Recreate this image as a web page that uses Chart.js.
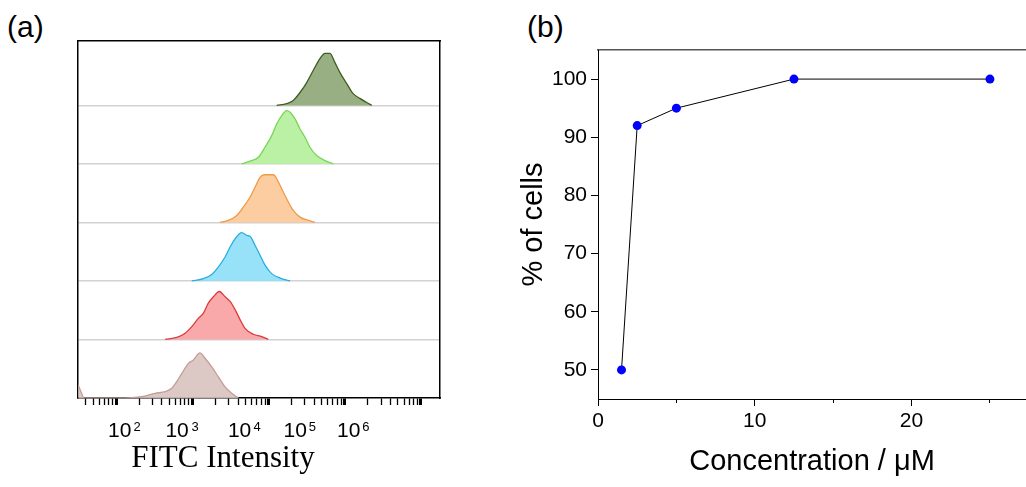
<!DOCTYPE html>
<html>
<head>
<meta charset="utf-8">
<script src="https://cdn.jsdelivr.net/npm/chart.js@4.4.0/dist/chart.umd.min.js"></script>
<style>
  html, body { margin: 0; padding: 0; background: #fff; overflow: hidden; }
  body { width: 1026px; height: 487px; position: relative; font-family: 'Liberation Sans', Arial, sans-serif; }
  .panel { position: absolute; top: 0; height: 487px; }
  #wrap-a { left: 0; width: 446px; }
  #wrap-b { left: 500px; width: 526px; }
  .tag { position: absolute; top: 12px; font-size: 30px; line-height: 1; color: #000; }
</style>
</head>
<body>
<div class="tag" style="left:7px">(a)</div>
<div class="tag" style="left:527px">(b)</div>
<div class="panel" id="wrap-a"><canvas id="chartHisto"></canvas></div>
<div class="panel" id="wrap-b"><canvas id="chartConc"></canvas></div>
<script>
// FITC histograms, bottom row first: [intensity, relative count]
const histBrown = [[31.8, 0.22], [34.8, 0.10], [38, 0], [106, 0], [217, 0.022], [325, 0.08], [440, 0.108], [538, 0.165], [625, 0.28], [728, 0.42], [889, 0.59], [1030, 0.65], [1260, 0.77], [1470, 0.68], [1800, 0.53], [2200, 0.36], [2690, 0.19], [3290, 0.08], [4020, 0]];
const histRed = [[440, 0], [625, 0.034], [804, 0.108], [984, 0.22], [1200, 0.36], [1400, 0.45], [1620, 0.62], [1890, 0.73], [2260, 0.82], [2690, 0.73], [3130, 0.65], [3640, 0.51], [4230, 0.34], [4920, 0.19], [6320, 0.09], [8150, 0.05], [9930, 0]];
const histBlue = [[984, 0], [1400, 0.04], [1800, 0.11], [2200, 0.24], [2690, 0.41], [3130, 0.58], [3640, 0.72], [4450, 0.825], [5180, 0.78], [5850, 0.75], [6650, 0.61], [7740, 0.44], [9000, 0.27], [11000, 0.125], [14200, 0.05], [19200, 0]];
const histOrange = [[2310, 0], [2970, 0.034], [3830, 0.12], [4670, 0.26], [5710, 0.43], [6650, 0.6], [7740, 0.77], [8810, 0.815], [11600, 0.815], [13500, 0.69], [15600, 0.52], [18200, 0.35], [21100, 0.205], [25900, 0.09], [33300, 0.034], [40700, 0]];
const histLightGreen = [[4450, 0], [5710, 0.046], [7350, 0.114], [8990, 0.285], [11000, 0.483], [12800, 0.683], [14900, 0.824], [17300, 0.91], [19200, 0.882], [22300, 0.768], [25900, 0.597], [30100, 0.456], [35000, 0.285], [42900, 0.142], [55100, 0.056], [70800, 0]];
const histDarkGreen = [[12800, 0], [17300, 0.03], [21100, 0.085], [25900, 0.22], [31700, 0.39], [38700, 0.6], [47300, 0.8], [55100, 0.89], [64100, 0.89], [74500, 0.73], [86700, 0.56], [106000, 0.375], [129000, 0.2], [158000, 0.12], [194000, 0.05], [226000, 0]];

// FITC axis: range, log tick grid, hand-placed decade labels (positions in log10 units)
const fitcRange = [31.6, 1.78e6];
const fitcDecades = [10, 100, 1e3, 1e4, 1e5, 1e6];
const fitcMantissas = [1, 2, 3, 4, 5, 6, 7, 8, 9];
const fitcBaseLabels = ['10', '10', '10', '10', '10'];
const fitcBasePos = [2.046, 2.800, 3.620, 4.351, 5.052];
const fitcExpLabels = ['2', '3', '4', '5', '6'];
const fitcExpPos = [2.275, 3.036, 3.849, 4.577, 5.279];
const rowSeparators = [1, 2, 3, 4, 5];

// % of stained cells vs concentration
const concUM = [1.5, 2.5, 5, 12.5, 25];
const pctCells = [50, 92, 95, 100, 100];
const pctTicks = [50, 60, 70, 80, 90, 100];
const concMajorTicks = [0, 10, 20];
const concMinorTicks = [5, 15, 25];

(() => {
  const SANS = "'Liberation Sans', Arial, sans-serif";
  const SERIF = "'Liberation Serif', 'Times New Roman', serif";
  Chart.defaults.font.family = SANS;
  Chart.defaults.color = '#000';

  const rows = [histBrown, histRed, histBlue, histOrange, histLightGreen, histDarkGreen];
  const rowStyles = [
    { fill: 'rgba(216,194,190,0.9)', line: '#c39d97' },
    { fill: 'rgba(248,160,160,0.9)', line: '#dd3b3b' },
    { fill: 'rgba(140,222,248,0.9)', line: '#2aaee0' },
    { fill: 'rgba(252,200,150,0.9)', line: '#ee9a48' },
    { fill: 'rgba(178,240,155,0.9)', line: '#78d655' },
    { fill: 'rgba(146,170,124,0.95)', line: '#3f5e22' },
  ];

  const rangeLog = [Math.log10(fitcRange[0]), Math.log10(fitcRange[1])];
  const hidden = { display: false, drawTicks: false };

  // (a) stacked histograms, each row sits on its own baseline
  new Chart(document.getElementById('chartHisto'), {
    type: 'line',
    data: {
      datasets: rows.map((pts, i) => ({
        data: pts.map(([x, h]) => ({ x, y: i + h })),
        fill: { value: i },
        backgroundColor: rowStyles[i].fill,
        borderColor: rowStyles[i].line,
        borderWidth: 1.3,
        pointRadius: 0,
        cubicInterpolationMode: 'monotone',
      })),
    },
    options: {
      animation: false,
      responsive: true,
      maintainAspectRatio: false,
      layout: { autoPadding: false, padding: { top: 41, left: 0, right: 0, bottom: 0 } },
      plugins: {
        legend: { display: false },
        tooltip: { enabled: false },
        title: {
          display: true,
          position: 'bottom',
          text: 'FITC Intensity',
          color: '#000',
          font: { family: SERIF, size: 31, weight: 'normal' },
          padding: { top: 0, bottom: 10 },
        },
      },
      scales: {
        x: {
          type: 'logarithmic',
          position: 'bottom',
          weight: 0,
          min: fitcRange[0],
          max: fitcRange[1],
          afterBuildTicks: (ax) => {
            ax.ticks = fitcDecades
              .flatMap((d) => fitcMantissas.map((m) => ({ value: d * m })))
              .filter((t) => t.value >= ax.min && t.value <= ax.max);
          },
          afterFit: (ax) => { ax.height = 8; },
          ticks: { display: false },
          grid: {
            drawOnChartArea: false,
            tickLength: 7,
            tickColor: '#000',
            tickWidth: (ctx) => (ctx.tick && fitcDecades.includes(ctx.tick.value) ? 3 : 1.3),
          },
          border: { display: true, color: '#000', width: 1.5 },
        },
        // exponents: mirrored so the labels are not clipped to this zero-height box
        xExp: {
          type: 'linear',
          position: 'bottom',
          weight: 1,
          min: rangeLog[0],
          max: rangeLog[1],
          afterBuildTicks: (ax) => { ax.ticks = fitcExpPos.map((v) => ({ value: v })); },
          afterFit: (ax) => { ax.height = 0; },
          ticks: {
            autoSkip: false, maxRotation: 0, mirror: true, padding: -29.3, color: '#000',
            font: { size: 13 },
            callback: (v, i) => fitcExpLabels[i],
          },
          grid: hidden,
          border: { display: false },
        },
        xLab: {
          type: 'linear',
          position: 'bottom',
          weight: 2,
          min: rangeLog[0],
          max: rangeLog[1],
          afterBuildTicks: (ax) => { ax.ticks = fitcBasePos.map((v) => ({ value: v })); },
          afterFit: (ax) => { ax.height = 33.8; },
          ticks: {
            autoSkip: false, maxRotation: 0, padding: 12.4, color: '#000',
            font: { size: 21 },
            callback: (v, i) => fitcBaseLabels[i],
          },
          grid: hidden,
          border: { display: false },
        },
        xTop: {
          type: 'linear',
          position: 'top',
          min: 0, max: 1,
          afterFit: (ax) => { ax.height = 0; },
          ticks: { display: false },
          grid: hidden,
          border: { display: true, color: '#000', width: 1.5 },
        },
        y: {
          position: 'left',
          min: 0,
          max: 6.1,
          afterBuildTicks: (ax) => { ax.ticks = rowSeparators.map((v) => ({ value: v })); },
          afterFit: (ax) => { ax.width = 78; },
          ticks: { display: false },
          grid: { color: '#d2d2d2', lineWidth: 1.5, drawTicks: false },
          border: { display: true, color: '#000', width: 1.5 },
        },
        yRight: {
          position: 'right',
          min: 0,
          max: 6.1,
          afterFit: (ax) => { ax.width = 6; },
          ticks: { display: false },
          grid: hidden,
          border: { display: true, color: '#000', width: 1.5 },
        },
      },
    },
  });

  // (b) % of cells vs concentration
  new Chart(document.getElementById('chartConc'), {
    type: 'line',
    data: {
      datasets: [{
        data: concUM.map((x, i) => ({ x, y: pctCells[i] })),
        borderColor: '#000',
        borderWidth: 1,
        pointRadius: 4.5,
        pointBackgroundColor: '#0000ff',
        pointBorderWidth: 0,
        tension: 0,
        clip: false,
      }],
    },
    options: {
      animation: false,
      responsive: true,
      maintainAspectRatio: false,
      layout: { autoPadding: false, padding: { top: 50, left: 0, right: 0, bottom: 0 } },
      plugins: { legend: { display: false }, tooltip: { enabled: false } },
      scales: {
        xMinor: {
          type: 'linear',
          position: 'bottom',
          weight: -1,
          min: 0,
          max: 27.3,
          afterBuildTicks: (ax) => { ax.ticks = concMinorTicks.map((v) => ({ value: v })); },
          afterFit: (ax) => { ax.height = 0; },
          ticks: { display: false },
          grid: { drawOnChartArea: false, tickLength: 4, tickColor: '#000', tickWidth: 1 },
          border: { display: false },
        },
        x: {
          type: 'linear',
          position: 'bottom',
          weight: 0,
          min: 0,
          max: 27.3,
          afterBuildTicks: (ax) => { ax.ticks = concMajorTicks.map((v) => ({ value: v })); },
          afterFit: (ax) => { ax.height = 88; },
          ticks: { padding: 2.4, color: '#000', font: { size: 21 }, maxRotation: 0, autoSkip: false },
          grid: { drawOnChartArea: false, tickLength: 7, tickColor: '#000', tickWidth: 1 },
          border: { color: '#000', width: 1 },
          title: {
            display: true,
            text: 'Concentration / μM',
            color: '#000',
            font: { size: 29 },
            padding: { top: 0, bottom: 7.6 },
          },
        },
        xTop: {
          type: 'linear',
          position: 'top',
          min: 0, max: 1,
          afterFit: (ax) => { ax.height = 0; },
          ticks: { display: false },
          grid: hidden,
          border: { display: true, color: '#555', width: 1.5 },
        },
        y: {
          position: 'left',
          min: 45,
          max: 105,
          afterBuildTicks: (ax) => { ax.ticks = pctTicks.map((v) => ({ value: v })); },
          afterFit: (ax) => { ax.width = 98; },
          ticks: { padding: 4, color: '#000', font: { size: 21 } },
          grid: { drawOnChartArea: false, tickLength: 7, tickColor: '#000', tickWidth: 1 },
          border: { color: '#000', width: 1 },
          title: {
            display: true,
            text: '% of cells',
            color: '#000',
            font: { size: 29 },
            padding: { top: 16.6, bottom: 0 },
          },
        },
      },
    },
  });
})();
</script>
</body>
</html>
